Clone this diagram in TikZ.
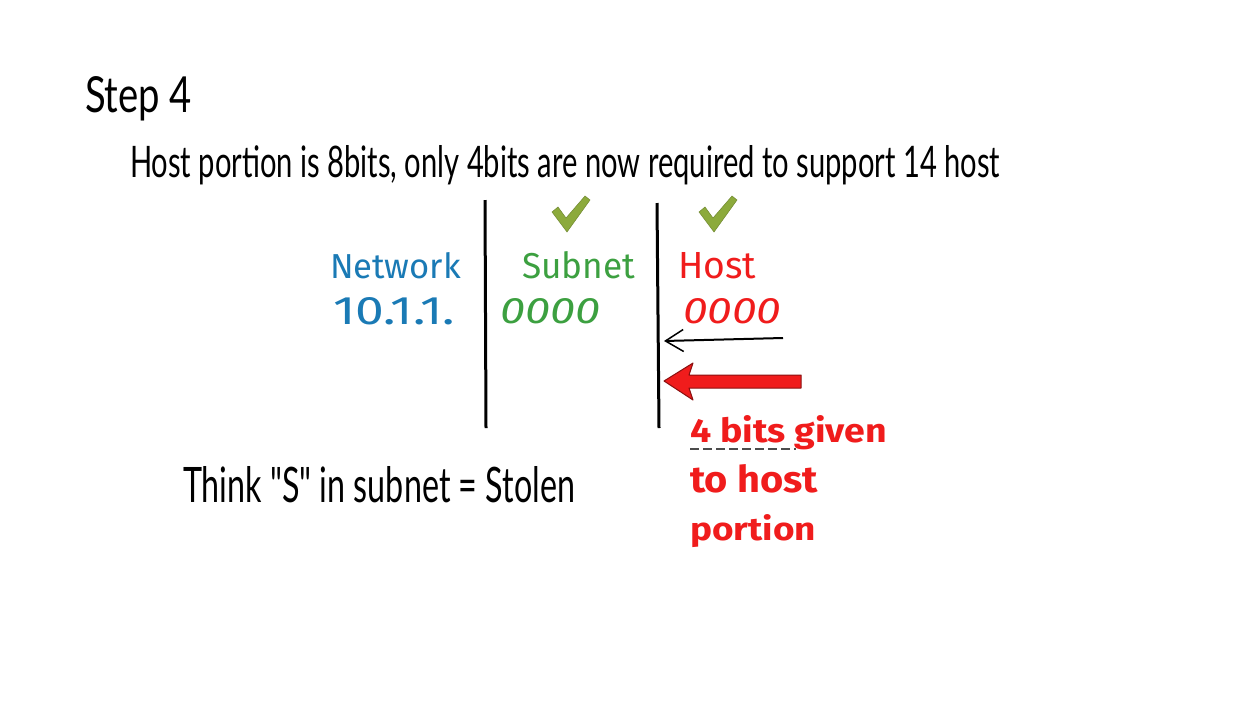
\documentclass[tikz,border=0pt]{standalone}
\usepackage{fontspec}
\usepackage{graphicx}
\setmainfont{Lato}
\newfontfamily\lblfont{Fira Sans}
\usetikzlibrary{arrows.meta}
\definecolor{netblue}{HTML}{1A7AB5}
\definecolor{subgreen}{HTML}{3CA040}
\definecolor{hostred}{HTML}{F01C1C}
\definecolor{checkgreen}{HTML}{8CAA3C}
\definecolor{arrowedge}{HTML}{8A1010}
\newcommand\rsbox[3]{\resizebox{#1pt}{#2pt}{#3}}
\begin{document}
\begin{tikzpicture}[x=1pt,y=-1pt,
  txt/.style={anchor=base west,inner sep=0pt,outer sep=0pt},
  lbl/.style={txt,font=\lblfont},
  divider/.style={line width=3pt,black},
  checkmk/.style={fill=checkgreen,draw=checkgreen!80!black,line width=0.5pt}]
\useasboundingbox (0,0) rectangle (1258,710);
\fill[white] (0,0) rectangle (1258,710);

\node[txt] (step) at (85,112) {\rsbox{107}{36}{Step 4}};
\node[txt] (sub) at (130,177) {\rsbox{870}{32}{Host portion is 8bits, only 4bits are now required to support 14 host}};

\node[lbl,text=netblue] (net) at (330,278) {\rsbox{131}{26}{Network}};
\node[lbl,text=netblue] (netnum) at (333,324) {\rsbox{122}{27}{10.1.1.}};
\node[lbl,text=subgreen] (subn) at (522,278) {\rsbox{113}{27}{Subnet}};
\node[lbl,text=subgreen] (subnum) at (500,323) {\rsbox{100}{25}{\itshape 0000}};
\node[lbl,text=hostred] (host) at (678,278) {\rsbox{78}{26}{Host}};
\node[lbl,text=hostred] (hostnum) at (683,323) {\rsbox{98}{25}{\itshape 0000}};

\node[lbl,text=hostred] (given) at (690,442) {\rsbox{197}{27}{\bfseries 4 bits given}};
\node[lbl,text=hostred] (tohost) at (690,492) {\rsbox{128}{28}{\bfseries to host}};
\node[lbl,text=hostred] (portion) at (690,540) {\rsbox{126}{26}{\bfseries portion}};

\node[txt] (think) at (183,502) {\rsbox{392}{36}{Think \textquotedbl S\textquotedbl{} in subnet = Stolen}};

% dividers
\coordinate (d1t) at (485,200); \coordinate (d1b) at (486,428);
\coordinate (d2t) at (657,203); \coordinate (d2b) at (659,428);
\draw[divider] (d1t) -- (d1b);
\draw[divider] (d2t) -- (d2b);

% thin arrow
\coordinate (a1s) at (783,338); \coordinate (a1e) at (664,341);
\draw[line width=2pt,-{Straight Barb[length=18pt,width=22pt,line width=1.5pt]}] (a1s) -- (a1e);

% fat red arrow
\filldraw[fill=hostred,draw=arrowedge,line width=1pt,line join=round]
  (664,381) -- (693,363) -- (689,375) -- (801,375) -- (801,388) -- (689,388) -- (693,400) -- cycle;

% dashed underline
\coordinate (ul1) at (690,449); \coordinate (ul2) at (796,449);
\draw[line width=2pt,black!70,dash pattern=on 9pt off 4pt] (ul1) -- (ul2);

% checkmarks
\fill[checkmk] (552,212) -- (558,207) -- (566,218) -- (585,196) -- (590,200) -- (567,232) -- cycle;
\fill[checkmk] (699,212) -- (705,207) -- (713,218) -- (732,196) -- (737,200) -- (714,232) -- cycle;
\end{tikzpicture}
\end{document}
